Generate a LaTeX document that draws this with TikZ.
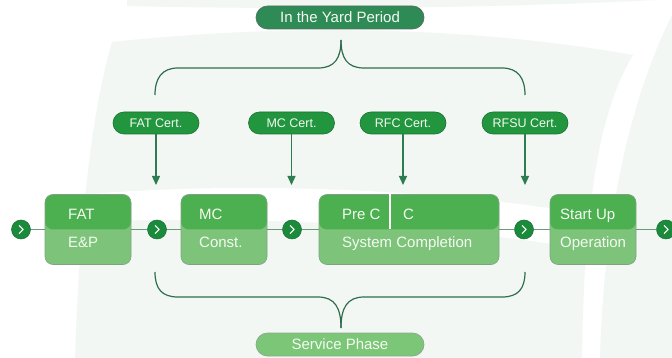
\documentclass[tikz,border=0pt]{standalone}
\usepackage{fontspec}
\setmainfont{Liberation Sans}
\usetikzlibrary{arrows.meta}
\definecolor{bglight}{HTML}{F2F7F4}
\definecolor{boxtop}{HTML}{4DB050}
\definecolor{boxbot}{HTML}{7DC47A}
\definecolor{boxline}{HTML}{7FA283}
\definecolor{certfill}{HTML}{22963F}
\definecolor{certline}{HTML}{1D6E36}
\definecolor{yardfill}{HTML}{2E8B55}
\definecolor{yardline}{HTML}{55705F}
\definecolor{svcfill}{HTML}{7BC777}
\definecolor{svcline}{HTML}{8FA690}
\definecolor{circfill}{HTML}{1B8A3B}
\definecolor{circline}{HTML}{17703A}
\definecolor{arrowcol}{HTML}{2E7D50}
\definecolor{bracecol}{HTML}{2F6E4D}
\definecolor{flowline}{HTML}{6B9A78}
\definecolor{txt}{HTML}{F4FAF2}
\tikzset{
  stagebox/.style={draw=boxline, line width=0.6pt, rounded corners=8pt, fill=boxbot,
    minimum width=86pt, minimum height=70pt, inner sep=0pt,
    path picture={\fill[boxtop] (path picture bounding box.north west) rectangle (path picture bounding box.east);}},
  boxtxt/.style={text=txt, inner sep=0pt, font=\fontsize{15}{18}\selectfont},
  certpill/.style={draw=certline, line width=0.6pt, fill=certfill, rounded corners=11pt,
    minimum width=86pt, minimum height=22pt, inner sep=0pt, text=txt, font=\fontsize{12.5}{15}\selectfont},
  phasepill/.style={line width=0.7pt, rounded corners=11.5pt,
    minimum width=168pt, minimum height=23pt, inner sep=0pt, text=txt, font=\fontsize{15}{18}\selectfont},
  flowcirc/.style={circle, draw=circline, line width=0.5pt, fill=circfill, minimum size=19pt, inner sep=0pt,
    path picture={\draw[white, line width=1.1pt, line cap=round, line join=round]
      ([xshift=-1.8pt,yshift=4pt]path picture bounding box.center) --
      ([xshift=2.2pt]path picture bounding box.center) --
      ([xshift=-1.8pt,yshift=-4pt]path picture bounding box.center);}},
  flow/.style={draw=flowline, line width=1.5pt},
  certarrow/.style={draw=arrowcol, line width=1.3pt, -{Triangle[width=8pt,length=9pt]}},
  brace/.style={draw=bracecol, line width=1.2pt}
}
\begin{document}
\begin{tikzpicture}[x=1pt,y=-1pt]
\useasboundingbox (0,0) rectangle (672,358);
% background watermark
\fill[white] (0,0) rectangle (672,358);
\fill[bglight] (127,0) -- (656,0) .. controls (500,8) and (300,10) .. (127,6) -- cycle;
\fill[bglight] (112,42) .. controls (300,22) and (480,28) .. (633,55)
  .. controls (600,110) and (584,200) .. (582,358) -- (75,358)
  .. controls (80,200) and (95,100) .. (112,42) -- cycle;
\fill[bglight] (672,15) -- (672,358) -- (600,358) .. controls (603,250) and (620,120) .. (672,15) -- cycle;
\fill[white] (77,195) .. controls (250,180) and (450,190) .. (592,215) -- (588,250)
  .. controls (450,225) and (250,215) .. (77,222) -- cycle;

% top phase
\node[phasepill, draw=yardline, fill=yardfill] (yard) at (340,17.5) {In the Yard Period};
\coordinate (ttip) at (341,40);
\coordinate (tl) at (155,95);
\coordinate (tr) at (525,95);
\draw[brace] (tl) .. controls (155,78) and (162,68) .. (178,68) -- (318,68)
  .. controls (335,68) and (341,58) .. (ttip);
\draw[brace] (tr) .. controls (525,78) and (518,68) .. (502,68) -- (364,68)
  .. controls (347,68) and (341,58) .. (ttip);

% certificates
\node[certpill] (fatc) at (156,123) {FAT Cert.};
\node[certpill] (mcc) at (291.5,123) {MC Cert.};
\node[certpill] (rfcc) at (403,123) {RFC Cert.};
\node[certpill] (rfsuc) at (525,123) {RFSU Cert.};
\coordinate (fata) at (156,185);
\coordinate (mca) at (291.5,185);
\coordinate (rfca) at (403,185);
\coordinate (rfsua) at (525,185);
\draw[certarrow] (fatc) -- (fata);
\draw[certarrow] (mcc) -- (mca);
\draw[certarrow] (rfcc) -- (rfca);
\draw[certarrow] (rfsuc) -- (rfsua);

% stages
\node[stagebox] (fat) at (88,229.5) {};
\node[stagebox] (mc) at (224,229.5) {};
\node[stagebox, minimum width=180pt] (sys) at (409,229.5) {};
\node[stagebox] (start) at (593,229.5) {};
\draw[white, line width=1.2pt] ([xshift=-19pt]sys.north) -- ([xshift=-19pt]sys.center);

\node[boxtxt, anchor=base west] (t1) at (68,220) {FAT};
\node[boxtxt, anchor=base west] (t2) at (68,247.5) {E\&P};
\node[boxtxt, anchor=base west] (t3) at (199,220) {MC};
\node[boxtxt, anchor=base west] (t4) at (199,247.5) {Const.};
\node[boxtxt, anchor=base west] (t5) at (342,220) {Pre C};
\node[boxtxt, anchor=base west] (t6) at (403,220) {C};
\node[boxtxt, anchor=base west] (t7) at (342,247.5) {System Completion};
\node[boxtxt, anchor=base west] (t8) at (560,220) {Start Up};
\node[boxtxt, anchor=base west] (t9) at (560,247.5) {Operation};

% flow circles
\node[flowcirc] (c1) at (21,229.5) {};
\node[flowcirc] (c2) at (157,229.5) {};
\node[flowcirc] (c3) at (292,229.5) {};
\node[flowcirc] (c4) at (524,229.5) {};
\node[flowcirc] (c5) at (666,229.5) {};
\draw[flow] (c1) -- (fat);
\draw[flow] (fat) -- (c2);
\draw[flow] (c2) -- (mc);
\draw[flow] (mc) -- (c3);
\draw[flow] (c3) -- (sys);
\draw[flow] (sys) -- (c4);
\draw[flow] (c4) -- (start);
\draw[flow] (start) -- (c5);

% bottom phase
\coordinate (bl) at (155,272);
\coordinate (br) at (525,272);
\coordinate (btip) at (341,328);
\draw[brace] (bl) .. controls (155,289) and (162,297) .. (178,297) -- (318,297)
  .. controls (335,297) and (341,308) .. (btip);
\draw[brace] (br) .. controls (525,289) and (518,297) .. (502,297) -- (364,297)
  .. controls (347,297) and (341,308) .. (btip);
\node[phasepill, draw=svcline, fill=svcfill] (svc) at (340,344.5) {Service Phase};
\end{tikzpicture}
\end{document}
